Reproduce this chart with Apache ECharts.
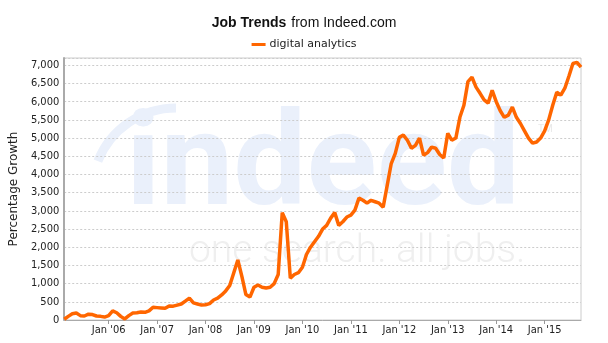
<!DOCTYPE html>
<html>
<head>
<meta charset="utf-8">
<script src="https://cdn.jsdelivr.net/npm/echarts@6/dist/echarts.min.js"></script>
<style>
  html, body { margin: 0; padding: 0; background: #fff; }
  #chart { width: 608px; height: 343px; }
</style>
</head>
<body>
<div id="chart"></div>
<script>
// months Feb 2005 .. Oct 2015
var monthNames = ['Jan','Feb','Mar','Apr','May','Jun','Jul','Aug','Sep','Oct','Nov','Dec'];
var months = [];
for (var i = 0; i < 129; i++) {
  var mi = (1 + i) % 12;
  var yr = 2005 + Math.floor((1 + i) / 12);
  months.push(monthNames[mi] + " '" + String(yr).slice(-2));
}

// percentage growth (one value per month)
var digitalAnalytics = [
  20, 100, 170, 190, 120, 110, 160, 150, 110, 100, 80,          // 2005
  120, 250, 200, 100, 30, 120, 190, 200, 220, 210, 250, 350,    // 2006
  340, 330, 320, 385, 380, 410, 440, 520, 600, 470, 440, 410,   // 2007
  420, 450, 550, 600, 690, 800, 950, 1300, 1650, 1200, 700, 630, // 2008
  900, 960, 900, 880, 900, 1000, 1250, 2950, 2700, 1150, 1250, 1300, // 2009
  1450, 1800, 2000, 2150, 2300, 2500, 2600, 2800, 2950, 2600, 2700, 2830, // 2010
  2880, 3020, 3350, 3290, 3210, 3290, 3250, 3210, 3100, 3700, 4300, 4580, // 2011
  5020, 5080, 4940, 4720, 4800, 5000, 4530, 4600, 4750, 4720, 4550, 4450, // 2012
  5130, 4940, 5000, 5570, 5900, 6550, 6670, 6400, 6230, 6050, 5960, 6310, // 2013
  6000, 5750, 5570, 5630, 5850, 5570, 5400, 5200, 5000, 4860, 4890, 5000, // 2014
  5200, 5500, 5900, 6260, 6180, 6370, 6700, 7050, 7080, 6950              // 2015
];

var yTicks = { min: 0, max: 7200, interval: 500 };

var myChart = echarts.init(document.getElementById('chart'));
var option;

function isJan(index) {
  return months[index].indexOf('Jan') === 0;
}

option = {
  animation: false,
  title: {
    left: 'center',
    top: 9,
    text: '{b|Job Trends} {n|from Indeed.com}',
    textStyle: {
      fontWeight: 'normal',
      rich: {
        b: { fontFamily: 'Liberation Sans', fontWeight: 'bold', fontSize: 14, color: '#111' },
        n: { fontFamily: 'Liberation Sans', fontWeight: 'normal', fontSize: 14, color: '#111' }
      }
    }
  },
  legend: {
    top: 34,
    left: 'center',
    itemWidth: 14,
    itemHeight: 3,
    itemGap: 4,
    icon: 'rect',
    textStyle: { fontFamily: 'DejaVu Sans', fontSize: 11, color: '#222', padding: [0, 0, 0, -1] },
    data: ['digital analytics']
  },
  //水印
  graphic: [
    {
      type: 'arc',
      silent: true,
      z: 0,
      shape: { cx: 176, cy: 192, r: 84, startAngle: Math.PI * 1.12, endAngle: Math.PI * 1.5 },
      style: { stroke: '#eaf0fb', lineWidth: 9, fill: null }
    },
    {
      type: 'text',
      silent: true,
      z: 0,
      left: 126,
      top: 106,
      style: { text: 'indeed', fontFamily: 'Roboto', fontWeight: 'bold', fontSize: 130, fill: '#eaf0fb' }
    },
    {
      type: 'text',
      silent: true,
      z: 0,
      left: 538,
      top: 124,
      style: { text: 'TM', fontFamily: 'Roboto', fontSize: 10, fill: '#e9e9e9' }
    },
    {
      type: 'text',
      silent: true,
      z: 0,
      left: 189,
      top: 233,
      style: { text: 'one search. all jobs.', fontFamily: 'Roboto', fontWeight: 300, fontSize: 39, fill: '#efefef' }
    }
  ],
  grid: {
    left: 62,
    right: 27,
    top: 58,
    bottom: 23,
    show: true,
    borderColor: '#cccccc',
    borderWidth: 1,
    backgroundColor: 'transparent'
  },
  xAxis: {
    type: 'category',
    boundaryGap: false,
    data: months,
    axisLine: { lineStyle: { color: '#aaaaaa', width: 1 } },
    axisTick: {
      interval: function (index) { return isJan(index); },
      length: 4,
      lineStyle: { color: '#999' }
    },
    axisLabel: {
      interval: function (index) { return isJan(index); },
      fontFamily: 'DejaVu Sans Condensed',
      fontSize: 11,
      color: '#222',
      margin: 5
    },
    splitLine: { show: false }
  },
  yAxis: {
    type: 'value',
    min: yTicks.min,
    max: yTicks.max,
    interval: yTicks.interval,
    name: 'Percentage Growth',
    nameLocation: 'middle',
    nameGap: 44,
    nameTextStyle: { fontFamily: 'DejaVu Sans', fontSize: 12, color: '#222' },
    axisLine: { show: true, lineStyle: { color: '#aaaaaa', width: 2 } },
    axisTick: { show: false },
    axisLabel: {
      showMaxLabel: false,
      fontFamily: 'DejaVu Sans Condensed',
      fontSize: 11,
      color: '#222',
      margin: 5,
      formatter: function (v) { return v.toLocaleString('en-US'); }
    },
    splitLine: { lineStyle: { color: '#cccccc', type: [2, 2], width: 1 } }
  },
  series: [
    {
      name: 'digital analytics',
      type: 'line',
      data: digitalAnalytics,
      showSymbol: false,
      color: '#ff6600',
      lineStyle: { width: 3.5, color: '#ff6600' },
      z: 3
    }
  ]
};

option && myChart.setOption(option);
</script>
</body>
</html>
